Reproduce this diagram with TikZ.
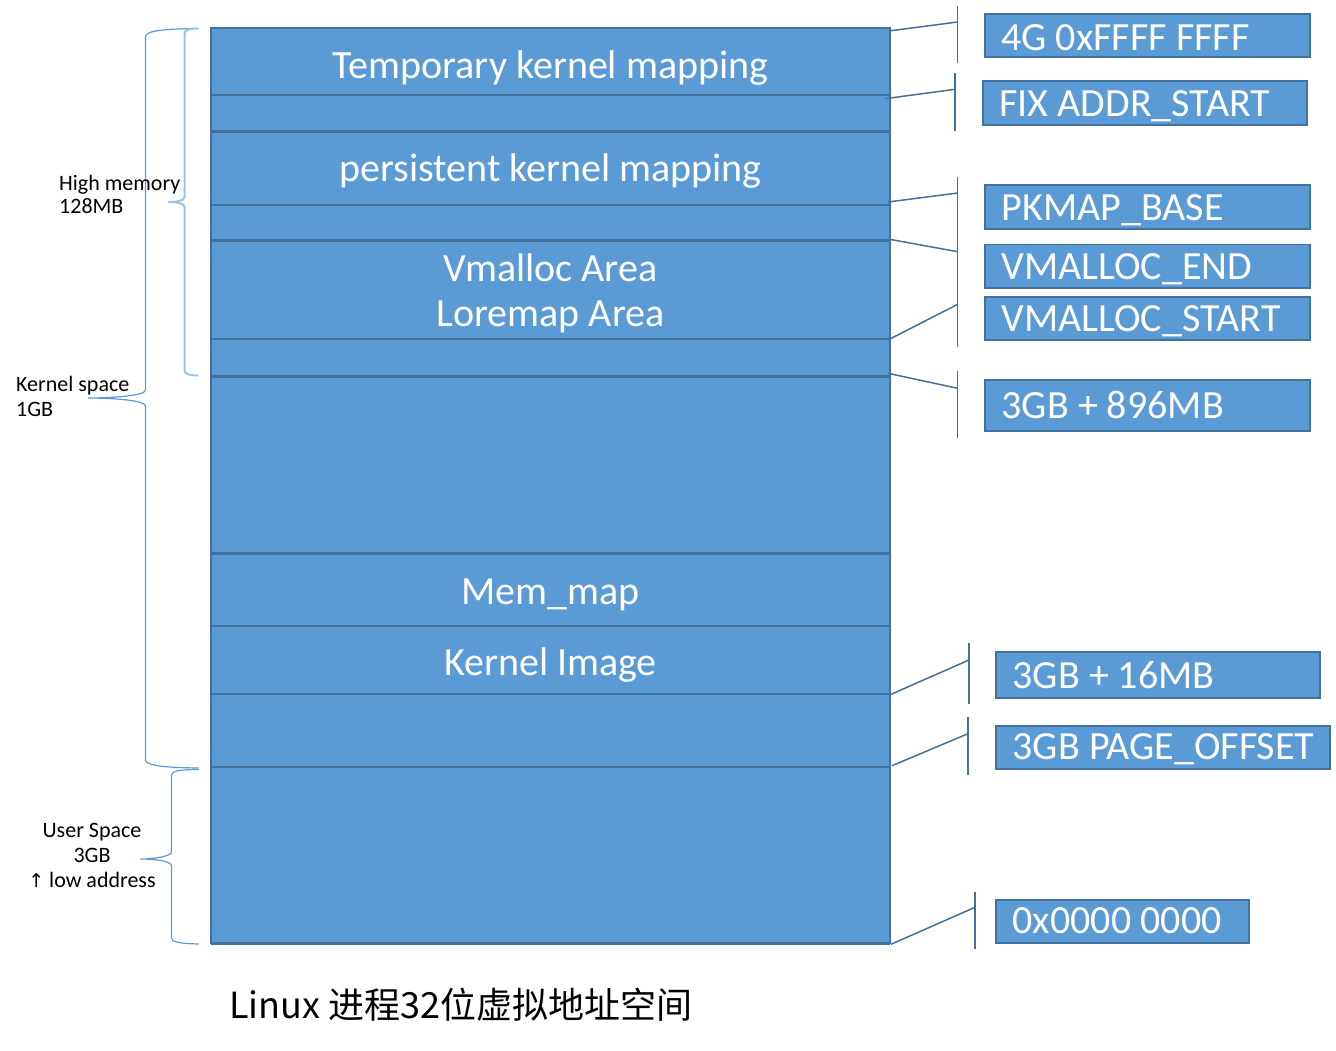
\documentclass[tikz,border=0pt]{standalone}
\usepackage{fontspec}
\setmainfont{Carlito}
\newfontfamily\cjk{Noto Sans CJK SC}
\newfontfamily\symf{DejaVu Sans}
\definecolor{fillblue}{HTML}{5B9BD5}
\definecolor{edgeblue}{HTML}{41719C}
\definecolor{bracedark}{HTML}{5B9BD5}
\definecolor{bracelight}{HTML}{9DC3E6}
\begin{document}
\begin{tikzpicture}[x=1pt,y=-1pt,
  rowbox/.style={anchor=north west, fill=fillblue, draw=none, minimum width=679pt, inner sep=0pt, outer sep=0pt},
  septhin/.style={draw=edgeblue, line width=1.5pt},
  septhick/.style={draw=edgeblue, line width=3pt},
  outline/.style={draw=edgeblue, line width=2pt},
  areatext/.style={text=white, font=\fontsize{40}{45}\selectfont, anchor=base, inner sep=0pt},
  addr/.style={anchor=north west, fill=fillblue, draw=edgeblue, line width=1.8pt, text=white, font=\fontsize{40}{44}\selectfont, inner xsep=16.5pt, inner ysep=0pt},
  conn/.style={draw=edgeblue, line width=1.5pt},
  tickline/.style={draw=edgeblue, line width=1.5pt},
  sidelabel/.style={text=black, inner sep=0pt},
  bracedk/.style={draw=bracedark, line width=1.2pt},
  bracelt/.style={draw=bracelight, line width=2pt}]
\useasboundingbox (0,0) rectangle (1336,1051);
% column rows
\node[rowbox, minimum height=67pt] (r1) at (211,28) {};
\node[rowbox, minimum height=37pt] (r2) at (211,95) {};
\node[rowbox, minimum height=73pt] (r3) at (211,132) {};
\node[rowbox, minimum height=36pt] (r4) at (211,205) {};
\node[rowbox, minimum height=98pt] (r5) at (211,241) {};
\node[rowbox, minimum height=37pt] (r6) at (211,339) {};
\node[rowbox, minimum height=177pt] (r7) at (211,376) {};
\node[rowbox, minimum height=73pt] (r8) at (211,553) {};
\node[rowbox, minimum height=68pt] (r9) at (211,626) {};
\node[rowbox, minimum height=73pt] (r10) at (211,694) {};
\node[rowbox, minimum height=176pt] (r11) at (211,767) {};
% separators
\draw[septhin] (r2.north west) -- (r2.north east);
\draw[septhick] (r3.north west) -- (r3.north east);
\draw[septhin] (r4.north west) -- (r4.north east);
\draw[septhick] (r5.north west) -- (r5.north east);
\draw[septhin] (r6.north west) -- (r6.north east);
\draw[septhick] (r7.north west) -- (r7.north east);
\draw[septhick] (r8.north west) -- (r8.north east);
\draw[septhin] (r9.north west) -- (r9.north east);
\draw[septhin] (r10.north west) -- (r10.north east);
\draw[septhin] (r11.north west) -- (r11.north east);
\draw[outline] (r1.north west) rectangle (r11.south east);
\draw[septhick] (r11.south west) -- (r11.south east);
% area texts
\node[areatext] (t1) at (550.5,78.3) {Temporary kernel mapping};
\node[areatext] (t2) at (550.5,181.7) {persistent kernel mapping};
\node[areatext] (t3) at (550.5,281) {Vmalloc Area};
\node[areatext] (t4) at (550.5,326) {Loremap Area};
\node[areatext] (t5) at (550.5,604) {Mem\_map};
\node[areatext] (t6) at (550.5,675.7) {Kernel Image};
% address boxes
\node[addr, minimum height=43pt, text height=36pt, text depth=7pt] (b1) at (984,13.3) {\makebox[292pt][l]{4G 0xFFFF FFFF}};
\node[addr, minimum height=44pt, text height=35.7pt, text depth=8.3pt] (b2) at (982,80) {\makebox[291pt][l]{FIX ADDR\_START}};
\node[addr, minimum height=44pt, text height=35.7pt, text depth=8.3pt] (b3) at (984.3,184.3) {\makebox[292pt][l]{PKMAP\_BASE}};
\node[addr, minimum height=43.3pt, text height=34.6pt, text depth=8.7pt] (b4) at (984.3,243.7) {\makebox[292pt][l]{VMALLOC\_END}};
\node[addr, minimum height=43.6pt, text height=35.3pt, text depth=8.3pt] (b5) at (984.3,295.7) {\makebox[292pt][l]{VMALLOC\_START}};
\node[addr, minimum height=51pt, text height=38.3pt, text depth=12.7pt] (b6) at (984.3,379) {\makebox[292pt][l]{3GB + 896MB}};
\node[addr, minimum height=46.6pt, text height=37pt, text depth=9.6pt] (b7) at (995.3,650.7) {\makebox[290.4pt][l]{3GB + 16MB}};
\node[addr, minimum height=43.3pt, text height=34pt, text depth=9.3pt] (b8) at (995.3,724.7) {\makebox[301pt][l]{3GB PAGE\_OFFSET}};
\node[addr, minimum height=43.3pt, text height=33.6pt, text depth=9.7pt] (b9) at (995.3,898.7) {\makebox[220pt][l]{0x0000 0000}};
% connector coordinates
\coordinate (p1) at (891,30.7);   \coordinate (q1) at (957.7,22);
\coordinate (p2) at (885,98.7);   \coordinate (q2) at (955,89.3);
\coordinate (p3) at (888,202);    \coordinate (q3) at (957.7,193);
\coordinate (p4) at (888,239);    \coordinate (q4) at (957.7,251.7);
\coordinate (p5) at (888,340);    \coordinate (q5) at (957.7,304.3);
\coordinate (p6) at (888,373.3);  \coordinate (q6) at (957.7,388.3);
\coordinate (p7) at (891,694.3);  \coordinate (q7) at (969,660);
\coordinate (p8) at (892,765.7);  \coordinate (q8) at (968,733.7);
\coordinate (p9) at (891,944.3);  \coordinate (q9) at (975,907.3);
% ticks
\coordinate (k1a) at (957.7,6);   \coordinate (k1b) at (957.7,63);
\coordinate (k2a) at (955,73);    \coordinate (k2b) at (955,131);
\coordinate (k3a) at (957.7,177); \coordinate (k3b) at (957.7,347);
\coordinate (k4a) at (957.7,371); \coordinate (k4b) at (957.7,437.7);
\coordinate (k5a) at (969,643.3); \coordinate (k5b) at (969,704.3);
\coordinate (k6a) at (968,717.3); \coordinate (k6b) at (968,775.3);
\coordinate (k7a) at (975,891.7); \coordinate (k7b) at (975,949.3);
\draw[tickline] (k1a) -- (k1b);
\draw[tickline] (k2a) -- (k2b);
\draw[tickline] (k3a) -- (k3b);
\draw[tickline] (k4a) -- (k4b);
\draw[tickline] (k5a) -- (k5b);
\draw[tickline] (k6a) -- (k6b);
\draw[tickline] (k7a) -- (k7b);
\draw[conn] (p1) -- (q1);
\draw[conn] (p2) -- (q2);
\draw[conn] (p3) -- (q3);
\draw[conn] (p4) -- (q4);
\draw[conn] (p5) -- (q5);
\draw[conn] (p6) -- (q6);
\draw[conn] (p7) -- (q7);
\draw[conn] (p8) -- (q8);
\draw[conn] (p9) -- (q9);
% braces
\draw[bracedk] (198.5,28.5) .. controls (160,29) and (145.5,31) .. (145.5,37) -- (145.5,390)
  .. controls (145.5,396) and (110,398) .. (88,398)
  .. controls (110,398) and (145.5,400) .. (145.5,406) -- (145.5,760)
  .. controls (145.5,765) and (160,767.5) .. (198.5,768);
\draw[bracelt] (198.5,28.5) .. controls (189,28.5) and (184.5,30) .. (184.5,34) -- (184.5,197)
  .. controls (184.5,201) and (176,202) .. (168,202)
  .. controls (176,202) and (184.5,203) .. (184.5,207) -- (184.5,370)
  .. controls (184.5,374) and (189,375.5) .. (198.5,375.5);
\draw[bracedk] (198.5,769.5) .. controls (180,769.5) and (171.5,771) .. (171.5,775) -- (171.5,852)
  .. controls (171.5,856) and (155,859) .. (140.5,859)
  .. controls (155,859) and (171.5,861) .. (171.5,866) -- (171.5,938)
  .. controls (171.5,942) and (180,943.5) .. (198.5,944);
% side labels (base anchor = baseline of the last line)
\node[sidelabel, align=left, anchor=base west, font=\fontsize{22}{23.5}\selectfont] (hm) at (59,214) {High memory\\128MB};
\node[sidelabel, align=left, anchor=base west, font=\fontsize{22}{24.3}\selectfont] (ks) at (16,416) {Kernel space\\1GB};
\node[sidelabel, align=center, anchor=base, font=\fontsize{22}{25}\selectfont] (us) at (92,887) {User Space\\3GB\\{\symf\fontsize{19}{25}\selectfont ↑} low address};
% title
\node[anchor=base west, inner sep=0pt, font=\cjk\fontsize{36}{40}\selectfont] (title) at (229,1018) {Linux 进程32位虚拟地址空间};
\end{tikzpicture}
\end{document}
